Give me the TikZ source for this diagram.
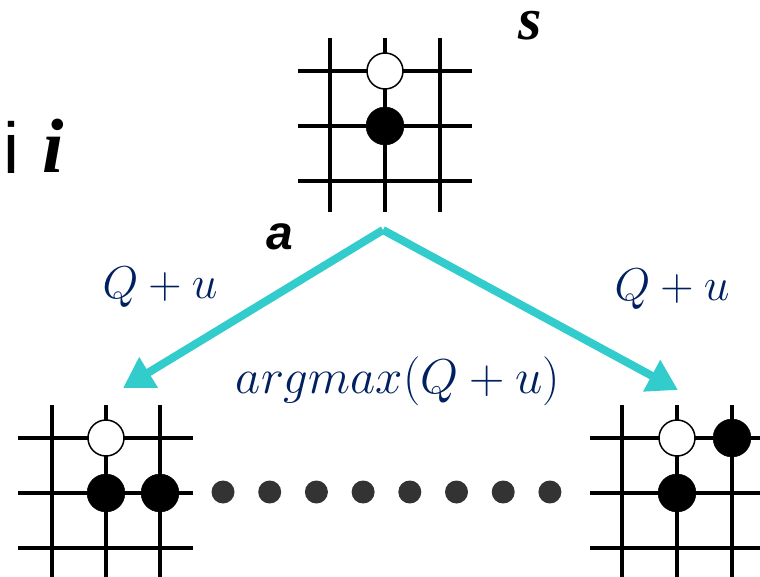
\RequirePackage{fix-cm}
\documentclass[tikz,border=0pt]{standalone}
\usepackage{fontspec}
\newfontfamily\labelsans{Liberation Sans}
\newfontfamily\labelserif{Liberation Serif}
\usetikzlibrary{arrows.meta}
\definecolor{navy}{RGB}{0,32,96}
\definecolor{turq}{RGB}{51,204,204}
\definecolor{dotgray}{RGB}{51,51,51}

\begin{document}
\begin{tikzpicture}[x=1pt,y=-1pt,
		grid/.style={line width=4pt},
		white stone/.style={fill=white,draw=black,line width=1.5pt},
		black stone/.style={fill=black},
		move/.style={turq,line width=8pt,-{Triangle[length=30pt,width=34pt]}},
		score/.style={text=navy,inner sep=0pt,font=\fontsize{46}{50}\selectfont},
		tag/.style={inner sep=0pt}]
		\useasboundingbox (0,0) rectangle (760,577);
		
		% state s
		\foreach \k in {0,1,2} {
			\draw[grid] (298, 71+55*\k) -- (472, 71+55*\k);
			\draw[grid] (330+55*\k, 38) -- (330+55*\k, 212);
		}
		\draw[white stone] (385, 71) circle (18pt);
		\draw[black stone] (385, 126) circle (19pt);
		
		% left child
		\foreach \k in {0,1,2} {
			\draw[grid] (18, 438+55*\k) -- (193, 438+55*\k);
			\draw[grid] (52+54*\k, 405) -- (52+54*\k, 580);
		}
		\draw[white stone] (106, 438) circle (18pt);
		\draw[black stone] (106, 493) circle (19pt);
		\draw[black stone] (160, 493) circle (19pt);
		
		% right child
		\foreach \k in {0,1,2} {
			\draw[grid] (590, 438+55*\k) -- (762, 438+55*\k);
			\draw[grid] (622+55*\k, 405) -- (622+55*\k, 580);
		}
		\draw[white stone] (677, 438) circle (18pt);
		\draw[black stone] (732, 438) circle (19pt);
		\draw[black stone] (677, 493) circle (19pt);
		
		% other moves
		\foreach \k in {0,...,7}
			\fill[dotgray] (223+46.7*\k, 492) circle (11.5pt);
		
		\coordinate (apex) at (383, 230);
		\coordinate (lefttip) at (123, 388);
		\coordinate (righttip) at (678, 390);
		\draw[move] (apex) -- (lefttip);
		\draw[move] (apex) -- (righttip);
		
		\node[score] (qleft) at (160, 287) {$Q+u$};
		\node[score] (qright) at (672, 289) {$Q+u$};
		\node[score,font=\fontsize{49}{52}\selectfont] (argmax) at (398, 381) {$argmax(Q+u)$};
		
		\node[tag,font=\labelsans\bfseries\itshape\fontsize{48}{50}\selectfont] (act) at (280, 237) {a};
		\node[tag,font=\labelserif\bfseries\itshape\fontsize{60}{62}\selectfont] (state) at (530, 26) {s};
		\node[tag,font=\labelsans\fontsize{72}{74}\selectfont] (iup) at (11, 147) {i};
		\node[tag,font=\labelserif\bfseries\itshape\fontsize{77}{79}\selectfont] (iit) at (53, 146) {i};
	\end{tikzpicture}
\end{document}
